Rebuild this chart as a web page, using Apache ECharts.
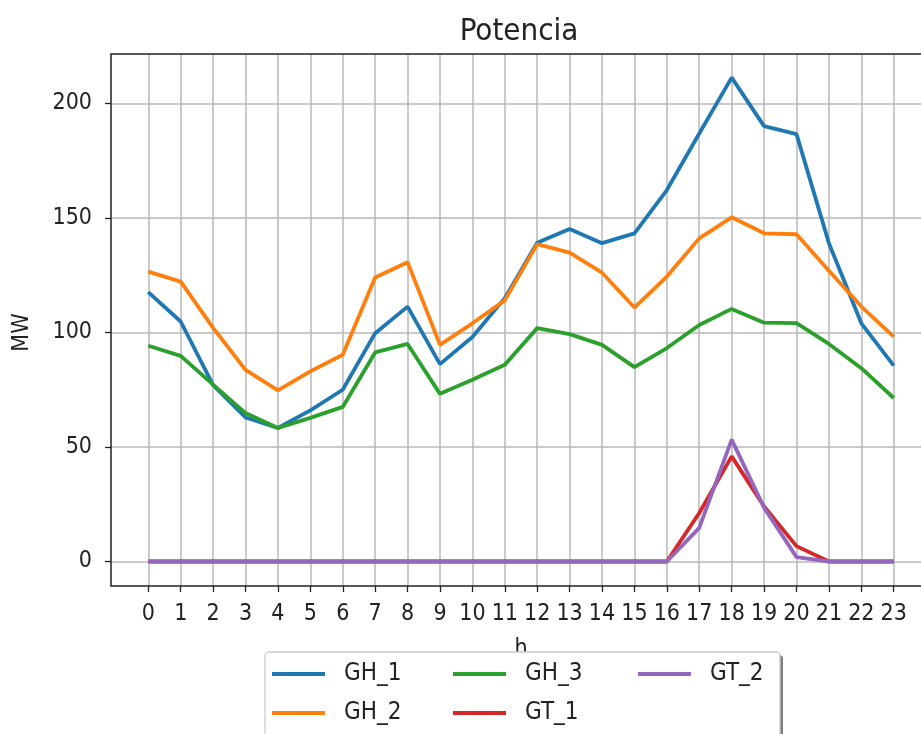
<!DOCTYPE html>
<html>
<head>
<meta charset="utf-8">
<script src="https://cdn.jsdelivr.net/npm/echarts@6/dist/echarts.min.js"></script>
<style>
  html, body { margin: 0; padding: 0; background: #fff; }
  #chart { width: 921px; height: 734px; }
</style>
</head>
<body>
<div id="chart"></div>
<script>
const hours = [0, 1, 2, 3, 4, 5, 6, 7, 8, 9, 10, 11, 12, 13, 14, 15, 16, 17, 18, 19, 20, 21, 22, 23]
const seriesNames = ['GH_1', 'GH_2', 'GH_3', 'GT_1', 'GT_2']
const gh1 = [117.6, 104.8, 77, 62.9, 58.3, 66, 75, 99.7, 111.3, 86.2, 98, 115, 139.2, 145.2, 139, 143.3, 162.2, 186.9, 211.3, 190.1, 186.6, 139, 104, 85.5]
const gh2 = [126.6, 122.2, 102, 83.7, 74.7, 83, 90.3, 124, 130.7, 94.6, 104, 114, 138.6, 134.9, 126.1, 110.9, 124.4, 141.1, 150.3, 143.3, 142.9, 127, 111.3, 98.2]
const gh3 = [94.2, 89.8, 77.2, 64.8, 58.3, 62.7, 67.5, 91.3, 95, 73.2, 79.4, 85.9, 101.9, 99.3, 94.6, 84.9, 93.2, 103.3, 110.3, 104.3, 104.1, 95, 84.4, 71.4]
const gt1 = [0, 0, 0, 0, 0, 0, 0, 0, 0, 0, 0, 0, 0, 0, 0, 0, 0, 21.2, 45.9, 24, 6.7, 0, 0, 0]
const gt2 = [0, 0, 0, 0, 0, 0, 0, 0, 0, 0, 0, 0, 0, 0, 0, 0, 0, 14.7, 53.2, 23.5, 1.9, 0, 0, 0]
const yTicks = [0, 50, 100, 150, 200]

const colors = ['#1f77b4', '#ff7f0e', '#2ca02c', '#d62728', '#9467bd']
const values = [gh1, gh2, gh3, gt1, gt2]
const font = '"DejaVu Sans Condensed", "DejaVu Sans", sans-serif'
const textColor = '#222'
const gridColor = '#b8b8b8'

const myChart = echarts.init(document.getElementById('chart'), null, { renderer: 'canvas' })

// frame grid holds the lines, the other two only carry ticks and grid lines
const frame = { left: 111, top: 54, width: 820, height: 532 }

function legendColumn(names, left) {
  return {
    data: names,
    orient: 'vertical',
    left: left,
    top: 662,
    height: 70,
    padding: 0,
    z: 20,
    icon: 'rect',
    itemWidth: 53,
    itemHeight: 4,
    itemGap: 15,
    textStyle: {
      fontFamily: font,
      fontSize: 24,
      lineHeight: 23,
      color: textColor,
      padding: [0, 0, 0, 14]
    }
  }
}

const option = {
  animation: false,
  title: {
    text: 'Potencia',
    left: 514,
    top: 11,
    textAlign: 'center',
    textStyle: { fontFamily: font, fontSize: 31, fontWeight: 'normal', color: textColor }
  },
  grid: [
    {
      left: frame.left, top: frame.top, width: frame.width, height: frame.height,
      show: true, borderColor: '#222', borderWidth: 1.5, z: 5,
      containLabel: false, outerBoundsMode: 'none'
    },
    {
      left: 148.3, top: frame.top, width: 745.4, height: frame.height,
      containLabel: false, outerBoundsMode: 'none'
    },
    {
      left: frame.left, top: 103.5, width: frame.width, height: 458,
      containLabel: false, outerBoundsMode: 'none'
    }
  ],
  xAxis: [
    { gridIndex: 0, type: 'value', min: -1.15, max: 24.15, show: false },
    {
      gridIndex: 1,
      type: 'value',
      min: 0,
      max: 23,
      interval: 1,
      name: 'h',
      nameLocation: 'middle',
      nameGap: 52,
      nameTextStyle: { fontFamily: font, fontSize: 23, color: textColor },
      axisLine: { show: false },
      axisTick: { show: true, length: 6, lineStyle: { color: '#222', width: 1.3 } },
      axisLabel: { margin: 17, fontFamily: font, fontSize: 23, color: textColor },
      splitLine: { show: true, lineStyle: { color: gridColor, width: 1.5 } }
    },
    { gridIndex: 2, type: 'value', min: 0, max: 1, show: false }
  ],
  yAxis: [
    { gridIndex: 0, type: 'value', min: -10.7, max: 221.6, show: false },
    { gridIndex: 1, type: 'value', min: 0, max: 1, show: false },
    {
      gridIndex: 2,
      type: 'value',
      min: yTicks[0],
      max: yTicks[yTicks.length - 1],
      interval: 50,
      name: 'MW',
      nameLocation: 'middle',
      nameRotate: 90,
      nameGap: 77,
      nameTextStyle: { fontFamily: font, fontSize: 23, color: textColor },
      axisLine: { show: false },
      axisTick: { show: true, length: 6, lineStyle: { color: '#222', width: 1.3 } },
      axisLabel: { margin: 19, fontFamily: font, fontSize: 23, color: textColor },
      splitLine: { show: true, lineStyle: { color: gridColor, width: 1.5 } }
    }
  ],
  legend: [
    legendColumn(['GH_1', 'GH_2'], 272),
    legendColumn(['GH_3', 'GT_1'], 453),
    legendColumn(['GT_2'], 638)
  ],
  graphic: [
    {
      type: 'rect',
      z: 10,
      shape: { x: 268, y: 655, width: 515, height: 120, r: 4 },
      style: { fill: '#7f7f7f' }
    },
    {
      type: 'rect',
      z: 11,
      shape: { x: 265, y: 652, width: 515, height: 120, r: 4 },
      style: { fill: '#fff', stroke: '#cccccc', lineWidth: 1.3 }
    }
  ],
  series: seriesNames.map((name, i) => ({
    name: name,
    type: 'line',
    xAxisIndex: 0,
    yAxisIndex: 0,
    symbol: 'none',
    z: 6,
    color: colors[i],
    lineStyle: { width: 3.8, color: colors[i] },
    data: hours.map((h, j) => [h, values[i][j]])
  }))
}

myChart.setOption(option)
</script>
</body>
</html>
